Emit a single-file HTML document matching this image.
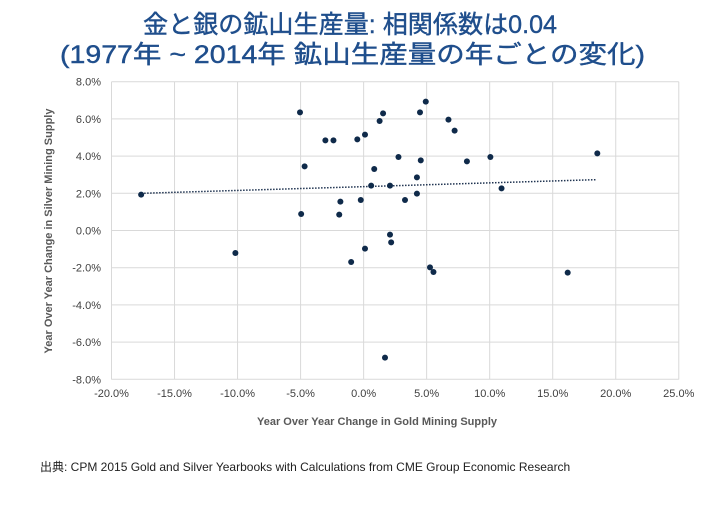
<!DOCTYPE html>
<html><head><meta charset="utf-8"><style>
body{margin:0;background:#fff;}
svg text{font-family:"Liberation Sans","Noto Sans CJK JP",sans-serif;}
</style></head><body>
<svg id="s" width="720" height="500" xmlns="http://www.w3.org/2000/svg">
<text x="143" y="33" font-size="25" fill="#1f4e8c" stroke="#1f4e8c" stroke-width="0.4" textLength="414" lengthAdjust="spacingAndGlyphs">金と銀の鉱山生産量: 相関係数は0.04</text>
<text x="60" y="63" font-size="25" fill="#1f4e8c" stroke="#1f4e8c" stroke-width="0.4" textLength="585" lengthAdjust="spacingAndGlyphs">(1977年 ~ 2014年 鉱山生産量の年ごとの変化)</text>
<g id="grid" stroke="#d9d9d9" stroke-width="1"></g>
<g id="lbl" font-size="11" fill="#404040"></g>
<text x="377" y="425" text-anchor="middle" font-size="11" font-weight="bold" fill="#595959">Year Over Year Change in Gold Mining Supply</text>
<text transform="translate(52,231) rotate(-90)" text-anchor="middle" font-size="11" font-weight="bold" fill="#595959">Year Over Year Change in Silver Mining Supply</text>
<line id="tr" stroke="#1f3350" stroke-width="1.5" stroke-dasharray="1.5,1.5"/>
<g id="pts" fill="#0f2a4a"></g>
<text x="40" y="471" font-size="12" fill="#222">出典: CPM 2015 Gold and Silver Yearbooks with Calculations from CME Group Economic Research</text>
</svg>
<script>
var ns="http://www.w3.org/2000/svg";
function X(px){return 100+px/2.6;}function Y(py){return 75+py/3;}
var g=document.getElementById('grid'),l=document.getElementById('lbl');
function el(p,t,a){var e=document.createElementNS(ns,t);for(var k in a)e.setAttribute(k,a[k]);p.appendChild(e);return e;}
for(var i=0;i<10;i++){var x=111.5+i*63.03;el(g,'line',{x1:x,x2:x,y1:81.7,y2:379.5});
var t=el(l,'text',{x:x,y:397,'text-anchor':'middle'});t.textContent=(-20+5*i).toFixed(1)+'%';}
for(var j=0;j<9;j++){var y=81.7+j*37.2;el(g,'line',{x1:111.5,x2:678.8,y1:y,y2:y});
var t=el(l,'text',{x:101,y:y+4,'text-anchor':'end'});t.textContent=(8-2*j).toFixed(1)+'%';}
var tr=document.getElementById('tr');tr.setAttribute('x1',X(107));tr.setAttribute('y1',Y(355));tr.setAttribute('x2',X(1290));tr.setAttribute('y2',Y(314));
var P=[[520,112],[736,115],[847,80],[832,112],[727,138],[906,134],[922,167],[586,196],[607,196],[669,193],[689,179],[1293,235],[776,246],[834,256],[1015,246],[954,259],[532,274],[713,282],[824,307],[705,332],[754,332],[1044,340],[107,359],[824,356],[625,380],[678,375],[793,375],[523,417],[622,419],[754,479],[757,502],[689,521],[352,534],[653,561],[858,577],[867,591],[1216,593],[741,848]];
var pg=document.getElementById('pts');P.forEach(function(p){el(pg,'circle',{cx:X(p[0]),cy:Y(p[1]),r:3});});
</script>
</body></html>
